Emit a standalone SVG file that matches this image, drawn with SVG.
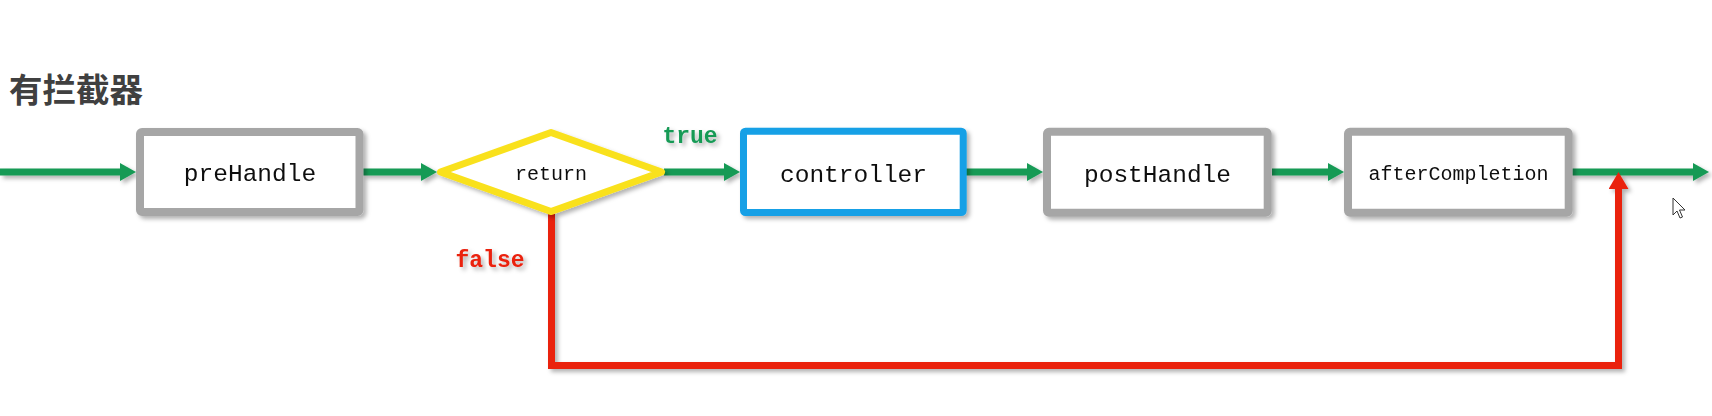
<svg xmlns="http://www.w3.org/2000/svg" width="1712" height="416" viewBox="0 0 1712 416">
<defs>
<filter id="sh" x="-10%" y="-20%" width="120%" height="140%">
<feDropShadow dx="3" dy="3" stdDeviation="2" flood-color="#000" flood-opacity="0.3"/>
</filter>
<marker id="ag" markerUnits="userSpaceOnUse" markerWidth="18" markerHeight="20" refX="6" refY="9" orient="auto">
<path d="M0,0 L16,9 L0,18 z" fill="#159a55"/>
</marker>
<marker id="ar" markerUnits="userSpaceOnUse" markerWidth="20" markerHeight="20" refX="6" refY="10" orient="auto">
<path d="M0,0 L17,10 L0,20 z" fill="#ea2010"/>
</marker>
</defs>
<style>
.box{fill:#fff;stroke:#a6a6a6;stroke-width:8;}
.lbl{font-family:"Liberation Mono","DejaVu Sans Mono",monospace;fill:#111;text-anchor:middle;}
.g{stroke:#159a55;stroke-width:7;fill:none;}
.r{stroke:#ea2010;stroke-width:7;fill:none;stroke-linejoin:miter;}
</style>
<rect width="1712" height="416" fill="#fff"/>
<text x="9" y="102" font-family="'Noto Sans CJK SC','Noto Sans',sans-serif" font-weight="bold" font-size="33.5" fill="#404040">有拦截器</text>
<g id="connectors" filter="url(#sh)">
<line class="g" x1="0" y1="172" x2="126" y2="172" marker-end="url(#ag)"/>
<line class="g" x1="363" y1="172" x2="427" y2="172" marker-end="url(#ag)"/>
<line class="g" x1="664" y1="172" x2="730" y2="172" marker-end="url(#ag)"/>
<line class="g" x1="966" y1="172" x2="1033" y2="172" marker-end="url(#ag)"/>
<line class="g" x1="1272" y1="172" x2="1334" y2="172" marker-end="url(#ag)"/>
<line class="g" x1="1572" y1="172" x2="1699" y2="172" marker-end="url(#ag)"/>
<path class="r" d="M551.5,214 V365.5 H1618.5 V183" marker-end="url(#ar)"/>
<text x="690" y="143" font-family="'Liberation Mono','DejaVu Sans Mono',monospace" font-weight="bold" font-size="23" fill="#159a55" text-anchor="middle">true</text>
<text x="490" y="267" font-family="'Liberation Mono','DejaVu Sans Mono',monospace" font-weight="bold" font-size="23" fill="#ea2010" text-anchor="middle">false</text>
</g>
<g id="preHandle" filter="url(#sh)">
<rect class="box" x="140" y="132" width="219.5" height="80" rx="2"/>
<text class="lbl" x="250" y="181" font-size="24.5">preHandle</text>
</g>
<g id="return" filter="url(#sh)">
<polygon points="440.5,172 551,132.5 661.5,172 551,211.5" fill="#fff" stroke="#f9e11e" stroke-width="7" stroke-linejoin="round"/>
<text class="lbl" x="551" y="180" font-size="20">return</text>
</g>
<g id="controller" filter="url(#sh)">
<rect x="743.5" y="131.2" width="219.7" height="81.3" rx="2" fill="#fff" stroke="#14a0e6" stroke-width="7"/>
<text class="lbl" x="853.5" y="181.5" font-size="24.5">controller</text>
</g>
<g id="postHandle" filter="url(#sh)">
<rect class="box" x="1047" y="131.7" width="220.7" height="81" rx="2"/>
<text class="lbl" x="1157.5" y="181.5" font-size="24.5">postHandle</text>
</g>
<g id="afterCompletion" filter="url(#sh)">
<rect class="box" x="1348" y="131.7" width="220.7" height="81" rx="2"/>
<text class="lbl" x="1458.5" y="179.5" font-size="20">afterCompletion</text>
</g>
<path d="M1673,198 V215 L1677,211 L1680,218 L1682.5,217 L1679.5,210 L1685,210 Z" fill="#fff" stroke="#333" stroke-width="1"/>
</svg>
